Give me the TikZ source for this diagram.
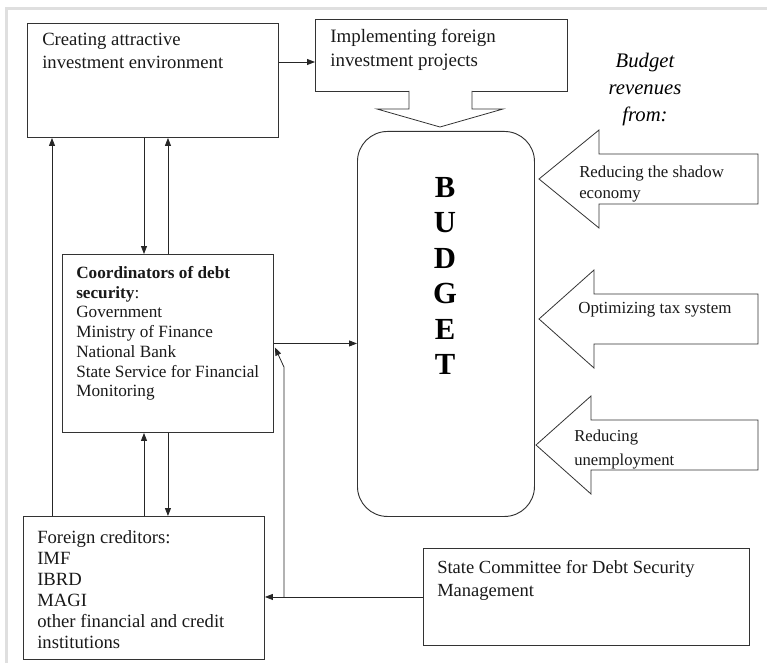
\documentclass[tikz,border=0pt]{standalone}
\usepackage{fontspec}
\setmainfont{Liberation Serif}
\usetikzlibrary{arrows.meta, positioning, calc}

\begin{document}
\begin{tikzpicture}[x=0.75pt, y=-0.75pt]
	\tikzstyle{blk} = [
	draw=black!80,
	line width=.7pt,
	rectangle,
	anchor=north west,
	inner sep=0pt
	]
	\tikzstyle{txt} = [anchor=north west, inner sep=0pt, align=left, text=black!90]
	\tikzstyle{arr} = [draw=black!85, line width=.6pt, -{Triangle[length=6pt, width=4.5pt]}]
	\tikzstyle{fat} = [draw=black!80, line width=.6pt, fill=white, line join=miter]
	
	\useasboundingbox (0,0) rectangle (767,663);
	\draw[gray!25, line width=2.25pt] (6,663) -- (6,9) -- (767,9);
	
	% boxes
	\node[blk, minimum width=188.25pt, minimum height=85.5pt] (create) at (27,23) {};
	\node[blk, minimum width=189pt, minimum height=54pt] (impl) at (315,19) {};
	\node[blk, minimum width=158.25pt, minimum height=133.5pt] (coord) at (62,254) {};
	\node[blk, minimum width=180.75pt, minimum height=107.25pt] (foreign) at (23,516) {};
	\node[blk, minimum width=244.5pt, minimum height=72.75pt] (committee) at (423,548) {};
	\node[blk, rounded corners=22.5pt, minimum width=132.75pt, minimum height=288.75pt] (budget) at (357,131) {};
	
	% texts
	\node[txt, font=\fontsize{14}{17}\selectfont] (createtxt) at (42,33) {Creating attractive\\investment environment};
	\node[txt, font=\fontsize{14.2}{18}\selectfont] (impltxt) at (330,29) {Implementing foreign\\investment projects};
	\node[txt, font=\fontsize{12.9}{14.8}\selectfont] (coordtxt) at (76,266) {\textbf{Coordinators of debt}\\\textbf{security}:\\Government\\Ministry of Finance\\National Bank\\State Service for Financial\\Monitoring};
	\node[txt, font=\fontsize{14}{15.75}\selectfont] (foreigntxt) at (37,530) {Foreign creditors:\\IMF\\IBRD\\MAGI\\other financial and credit\\institutions};
	\node[txt, font=\fontsize{13.9}{17.25}\selectfont] (committeetxt) at (437,560) {State Committee for Debt Security\\Management};
	\node[align=center, inner sep=0pt, font=\fontsize{23}{26.55}\selectfont\bfseries] (budgettxt) at (445,276) {B\\U\\D\\G\\E\\T};
	\node[align=center, inner sep=0pt, font=\fontsize{15.5}{20.25}\selectfont\itshape] (revenues) at (645,90) {Budget\\revenues\\from:};
	
	% fat arrows
	\draw[fat] (409,91) -- (409,109) -- (377,109) -- (440,127) -- (503,109) -- (472,109) -- (472,91);
	\foreach \y/\tip/\back in {179/539/599, 319/539/594, 445/536/591}
		\draw[fat] (\tip,\y) -- (\back,\y-49) -- (\back,\y-25) -- (758,\y-25) -- (758,\y+25) -- (\back,\y+25) -- (\back,\y+49) -- cycle;
	\node[txt, font=\fontsize{12.6}{15.75}\selectfont] (shadow) at (579,166) {Reducing the shadow\\economy};
	\node[txt, font=\fontsize{12.7}{15.75}\selectfont] (tax) at (578,302) {Optimizing tax system};
	\node[txt, font=\fontsize{12.5}{18}\selectfont] (unemp) at (574,430) {Reducing\\unemployment};
	
	% connectors
	\draw[arr] ($(create.north east)+(0,39)$) -- ($(impl.north west)+(0,43)$);
	\draw[arr] ($(create.south west)+(117,0)$) -- ($(coord.north west)+(82,0)$);
	\draw[arr] (coord.north) -- (coord.north |- create.south);
	\draw[arr] ($(foreign.north west)+(29,0)$) -- ($(create.south west)+(25,0)$);
	\draw[arr] ($(foreign.north west)+(121,0)$) -- ($(coord.south west)+(82,0)$);
	\draw[arr] (coord.south) -- (coord.south |- foreign.north);
	\draw[arr] (coord.east) -- (coord.east -| budget.west);
	\draw[arr] (committee.west) -- (committee.west -| foreign.east);
	\coordinate (split) at ($(committee.west -| coord.east)+(10,0)$);
	\draw[arr] (split) -- ++(0,-230) -- ($(coord.east)+(1,4)$);
\end{tikzpicture}
\end{document}
